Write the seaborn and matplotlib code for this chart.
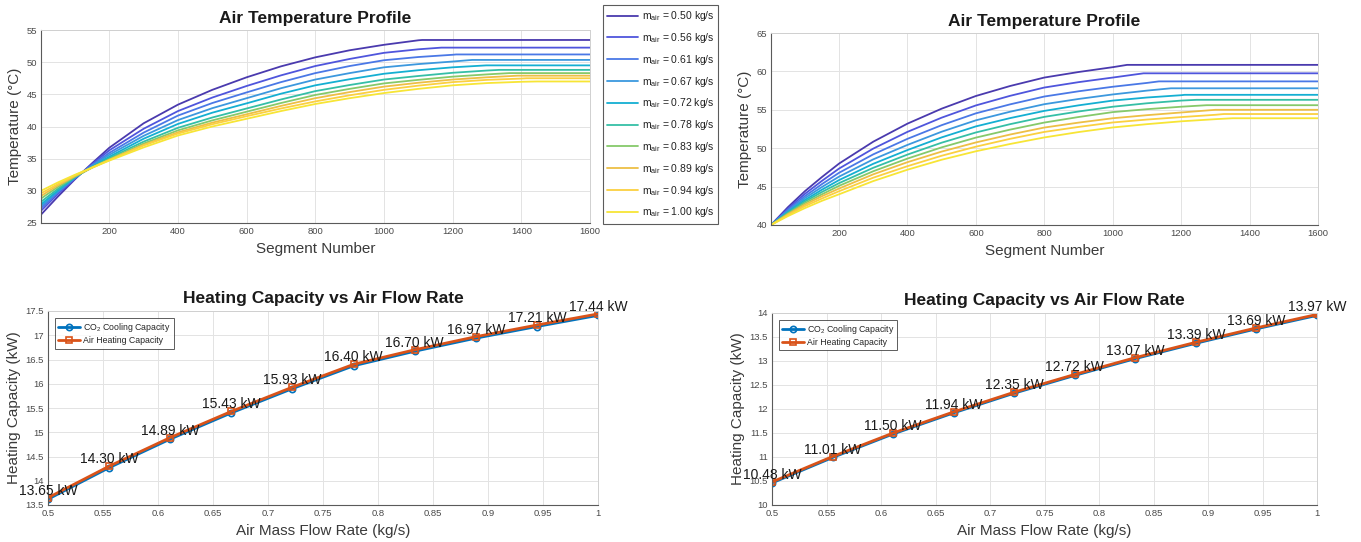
import matplotlib
matplotlib.use("Agg")
import matplotlib.pyplot as plt
import matplotlib.ticker as mticker
import numpy as np
import pandas as pd
import seaborn as sns

# ---------------- data ----------------
flow_rates = [0.50, 0.5556, 0.6111, 0.6667, 0.7222, 0.7778, 0.8333, 0.8889, 0.9444, 1.00]
segments = [1, 50, 100, 150, 200, 300, 400, 500, 600, 700, 800, 900,
            1000, 1100, 1200, 1300, 1400, 1500, 1600]

# left case: air temperature along the segments (one row per flow rate)
temps_left = [
    [26.3, 29.1, 31.8, 34.3, 36.7, 40.5, 43.4, 45.7, 47.65, 49.35, 50.75, 51.85, 52.7, 53.4, 53.45, 53.45, 53.45, 53.45, 53.45],
    [26.9, 29.5, 31.9, 34.15, 36.3, 39.65, 42.4, 44.5, 46.3, 47.95, 49.4, 50.5, 51.45, 52.0, 52.26, 52.26, 52.26, 52.26, 52.26],
    [27.3, 29.75, 32.0, 34.0, 35.9, 39.05, 41.7, 43.65, 45.3, 46.9, 48.3, 49.4, 50.3, 50.8, 51.15, 51.2, 51.2, 51.2, 51.2],
    [27.6, 29.9, 32.05, 33.9, 35.6, 38.55, 41.0, 42.85, 44.4, 45.95, 47.3, 48.3, 49.2, 49.7, 50.1, 50.35, 50.35, 50.35, 50.35],
    [27.9, 30.05, 32.1, 33.75, 35.3, 38.1, 40.4, 42.15, 43.6, 45.1, 46.4, 47.35, 48.2, 48.75, 49.2, 49.5, 49.5, 49.5, 49.5],
    [28.3, 30.3, 32.15, 33.7, 35.1, 37.65, 39.8, 41.4, 42.8, 44.2, 45.5, 46.45, 47.3, 47.85, 48.35, 48.7, 48.8, 48.8, 48.8],
    [28.8, 30.6, 32.2, 33.6, 34.9, 37.35, 39.4, 40.95, 42.3, 43.65, 44.9, 45.85, 46.7, 47.25, 47.75, 48.1, 48.3, 48.3, 48.3],
    [29.2, 30.85, 32.3, 33.6, 34.8, 37.15, 39.1, 40.6, 41.9, 43.2, 44.4, 45.35, 46.2, 46.8, 47.3, 47.65, 47.9, 47.9, 47.9],
    [29.6, 31.05, 32.4, 33.65, 34.8, 37.05, 38.9, 40.35, 41.6, 42.8, 43.9, 44.85, 45.7, 46.35, 46.9, 47.25, 47.45, 47.5, 47.5],
    [30.0, 31.3, 32.5, 33.6, 34.7, 36.75, 38.6, 40.0, 41.2, 42.4, 43.5, 44.4, 45.2, 45.85, 46.4, 46.75, 46.95, 47.0, 47.0],
]
plateau_seg_left = [1111, 1167, 1210, 1257, 1298, 1335, 1365, 1390, 1415, 1445]
plateau_temp_left = [53.45, 52.26, 51.2, 50.35, 49.5, 48.8, 48.3, 47.9, 47.5, 47.0]

# right case
temps_right = [
    [40.0, 42.3, 44.4, 46.25, 48.0, 50.85, 53.2, 55.15, 56.8, 58.1, 59.2, 59.92, 60.55, 60.85, 60.85, 60.85, 60.85, 60.85, 60.85],
    [40.0, 42.1, 44.05, 45.75, 47.35, 49.95, 52.13, 53.98, 55.57, 56.82, 57.9, 58.6, 59.2, 59.75, 59.75, 59.75, 59.75, 59.75, 59.75],
    [40.0, 41.95, 43.75, 45.33, 46.8, 49.2, 51.22, 53.0, 54.54, 55.71, 56.73, 57.41, 58.0, 58.5, 58.7, 58.7, 58.7, 58.7, 58.7],
    [40.0, 41.8, 43.5, 44.95, 46.3, 48.55, 50.43, 52.15, 53.63, 54.75, 55.73, 56.41, 57.0, 57.5, 57.8, 57.8, 57.8, 57.8, 57.8],
    [40.0, 41.68, 43.25, 44.6, 45.85, 47.97, 49.76, 51.41, 52.84, 53.92, 54.86, 55.58, 56.2, 56.6, 56.9, 56.95, 56.95, 56.95, 56.95],
    [40.0, 41.58, 43.05, 44.3, 45.45, 47.45, 49.17, 50.72, 52.05, 53.13, 54.08, 54.78, 55.4, 55.85, 56.2, 56.3, 56.3, 56.3, 56.3],
    [40.0, 41.48, 42.85, 44.0, 45.1, 47.0, 48.65, 50.11, 51.38, 52.42, 53.34, 54.06, 54.7, 55.08, 55.4, 55.6, 55.6, 55.6, 55.6],
    [40.0, 41.38, 42.65, 43.75, 44.75, 46.6, 48.18, 49.56, 50.75, 51.78, 52.69, 53.33, 53.9, 54.3, 54.65, 55.0, 55.0, 55.0, 55.0],
    [40.0, 41.28, 42.45, 43.45, 44.4, 46.16, 47.66, 49.02, 50.2, 51.22, 52.12, 52.77, 53.35, 53.73, 54.05, 54.35, 54.45, 54.45, 54.45],
    [40.0, 41.15, 42.2, 43.15, 44.0, 45.72, 47.2, 48.5, 49.6, 50.55, 51.4, 52.1, 52.7, 53.13, 53.5, 53.78, 53.9, 53.9, 53.9],
]
plateau_seg_right = [1042, 1090, 1135, 1170, 1210, 1245, 1275, 1300, 1325, 1350]
plateau_temp_right = [60.85, 59.75, 58.7, 57.8, 56.95, 56.3, 55.6, 55.0, 54.45, 53.9]

# heating capacity (kW)
co2_left = [13.62, 14.27, 14.86, 15.40, 15.90, 16.37, 16.67, 16.94, 17.18, 17.41]
air_left = [13.65, 14.30, 14.89, 15.43, 15.93, 16.40, 16.70, 16.97, 17.21, 17.44]
co2_right = [10.46, 10.99, 11.48, 11.92, 12.33, 12.70, 13.05, 13.37, 13.67, 13.95]
air_right = [10.48, 11.01, 11.50, 11.94, 12.35, 12.72, 13.07, 13.39, 13.69, 13.97]

curve_colors = ["#4A3AAE", "#4F55DC", "#4A78E6", "#3C98DE", "#14AFD2",
                "#35BFA6", "#86C96A", "#EDBF45", "#FBD040", "#F7E536"]

labels = [r"m$_{\mathrm{air}}$ = %.2f kg/s" % f for f in flow_rates]

def build_profile(temps, pseg, ptemp):
    rows = []
    for i, lab in enumerate(labels):
        for s, t in zip(segments, temps[i]):
            rows.append((lab, s, t))
        rows.append((lab, pseg[i], ptemp[i]))
    df = pd.DataFrame(rows, columns=["label", "Segment", "Temp"])
    return df.sort_values(["label", "Segment"])

df_left = build_profile(temps_left, plateau_seg_left, plateau_temp_left)
df_right = build_profile(temps_right, plateau_seg_right, plateau_temp_right)

# ---------------- style ----------------
sns.set_theme(style="whitegrid")
plt.rcParams["font.family"] = ["Liberation Sans", "DejaVu Sans"]
plt.rcParams["mathtext.fontset"] = "custom"
plt.rcParams["mathtext.rm"] = "Liberation Sans"
plt.rcParams["mathtext.it"] = "Liberation Sans:italic"
plt.rcParams["mathtext.default"] = "regular"

W, H = 1361, 542
fig = plt.figure(figsize=(W / 100, H / 100), dpi=100)
fig.patch.set_facecolor("white")

def px_axes(l, t, r, b):
    return fig.add_axes([l / W, 1 - b / H, (r - l) / W, (b - t) / H])

ax_tl = px_axes(41, 30, 590, 223)
ax_tr = px_axes(771, 33, 1318, 225)
ax_bl = px_axes(48, 311, 598, 505)
ax_br = px_axes(772, 313, 1317, 505)

def style_axes(ax):
    ax.set_facecolor("white")
    ax.grid(True, color="#E3E3E3", linewidth=0.7)
    for side in ["left", "bottom"]:
        ax.spines[side].set_color("#5A5A5A")
        ax.spines[side].set_linewidth(0.8)
    for side in ["top", "right"]:
        ax.spines[side].set_color("#D0D0D0")
        ax.spines[side].set_linewidth(0.7)
    ax.tick_params(axis="both", direction="in", length=3, width=0.6,
                   labelsize=6.8, colors="#4A4A4A", pad=3)

fmt_g = mticker.FuncFormatter(lambda v, p: "%g" % round(v, 4))

# ---------------- temperature profiles ----------------
palette = dict(zip(labels, curve_colors))
for ax, df, ylim in [(ax_tl, df_left, (25, 55)), (ax_tr, df_right, (40, 65))]:
    sns.lineplot(data=df, x="Segment", y="Temp", hue="label", hue_order=labels,
                 palette=palette, estimator=None, linewidth=1.3, ax=ax,
                 legend=(ax is ax_tl))
    style_axes(ax)
    ax.set_xlim(1, 1600)
    ax.set_ylim(*ylim)
    ax.set_xticks(np.arange(200, 1601, 200))
    ax.set_yticks(np.arange(ylim[0], ylim[1] + 0.1, 5))
    ax.yaxis.set_major_formatter(fmt_g)
    ax.set_title("Air Temperature Profile", fontsize=12.5, fontweight="bold",
                 color="#1A1A1A", pad=5)
    ax.set_xlabel("Segment Number", fontsize=11, color="#3A3A3A", labelpad=4)
    ax.set_ylabel("Temperature (°C)", fontsize=11, color="#3A3A3A", labelpad=3)

handles, labs = ax_tl.get_legend_handles_labels()
ax_tl.get_legend().remove()
leg = fig.legend(handles, labs, loc="upper left",
                 bbox_to_anchor=(603 / W, 1 - 5 / H), fontsize=7.5,
                 frameon=True, fancybox=False, edgecolor="#333333",
                 borderaxespad=0, handlelength=3.0, handletextpad=0.3,
                 labelspacing=0.75, borderpad=0.4)
leg.get_frame().set_linewidth(0.8)
for t in leg.get_texts():
    t.set_color("#222222")

# ---------------- heating capacity ----------------
for ax, co2, air, ylim in [(ax_bl, co2_left, air_left, (13.5, 17.5)),
                           (ax_br, co2_right, air_right, (10, 14))]:
    sns.lineplot(x=flow_rates, y=co2, ax=ax, color="#0072BD", linewidth=2,
                 marker="o", markersize=4.5, markerfacecolor="none",
                 markeredgecolor="#0072BD", markeredgewidth=1.2,
                 label="CO$_2$ Cooling Capacity")
    sns.lineplot(x=flow_rates, y=air, ax=ax, color="#D95319", linewidth=2,
                 marker="s", markersize=4.5, markerfacecolor="none",
                 markeredgecolor="#D95319", markeredgewidth=1.2,
                 label="Air Heating Capacity")
    for x, v in zip(flow_rates, air):
        ax.text(x, v, "%.2f kW" % v, ha="center", va="bottom",
                fontsize=10, color="#1A1A1A", clip_on=False)
    style_axes(ax)
    ax.set_xlim(0.5, 1.0)
    ax.set_ylim(*ylim)
    ax.set_xticks(np.arange(0.5, 1.001, 0.05))
    ax.set_yticks(np.arange(ylim[0], ylim[1] + 0.01, 0.5))
    ax.xaxis.set_major_formatter(fmt_g)
    ax.yaxis.set_major_formatter(fmt_g)
    ax.set_title("Heating Capacity vs Air Flow Rate", fontsize=12.5,
                 fontweight="bold", color="#1A1A1A", pad=6)
    ax.set_xlabel("Air Mass Flow Rate (kg/s)", fontsize=11, color="#3A3A3A",
                  labelpad=4)
    ax.set_ylabel("Heating Capacity (kW)", fontsize=11, color="#3A3A3A",
                  labelpad=3)
    lg = ax.legend(loc="upper left", bbox_to_anchor=(0.012, 0.965), fontsize=6.3,
                   frameon=True, fancybox=False, edgecolor="#333333",
                   handlelength=2.6, handletextpad=0.3, borderpad=0.35,
                   labelspacing=0.3, borderaxespad=0)
    lg.get_frame().set_linewidth(0.7)

fig.savefig("out.png", dpi=100, facecolor="white")
